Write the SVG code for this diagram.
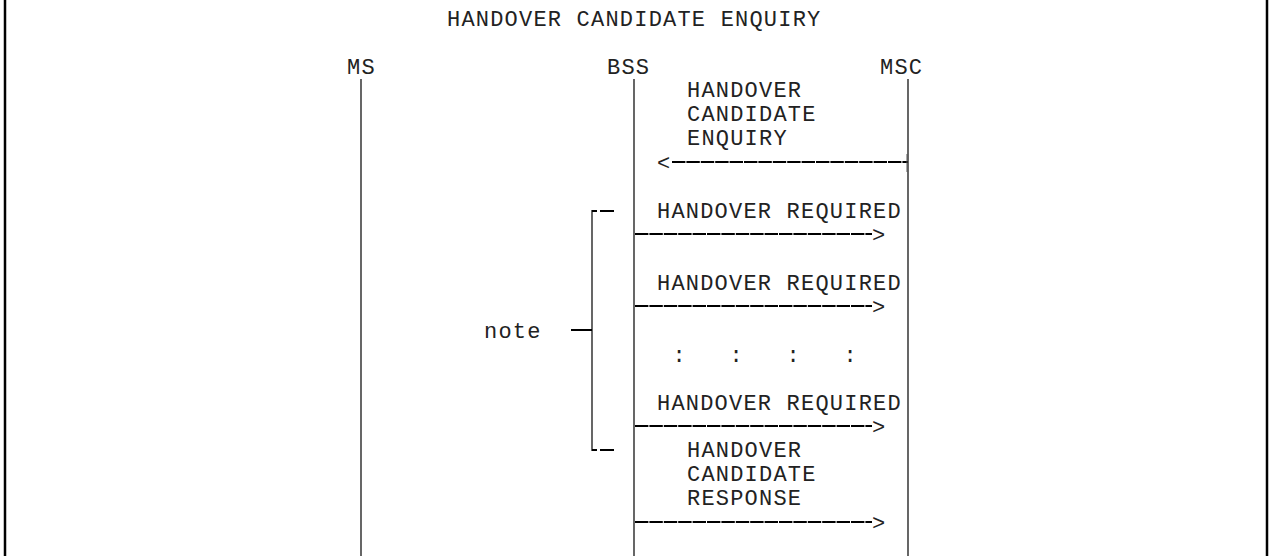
<svg xmlns="http://www.w3.org/2000/svg" width="1272" height="556" viewBox="0 0 1272 556">
<style>
text{font-family:"Liberation Mono","Courier New",monospace;font-size:22px;letter-spacing:1.2px;fill:#222}
.c{text-anchor:middle;letter-spacing:0}
.life{stroke:#000;stroke-width:1.2;fill:none}
.msg{stroke:#000;stroke-width:2;fill:none;stroke-dasharray:13.4 1}
.tick{stroke:#555;stroke-width:1;fill:none}
.br{stroke:#000;stroke-width:2;fill:none}
.border{stroke:#000;stroke-width:2.5;fill:none}
</style>
<rect width="1272" height="556" fill="#fff"/>
<line class="border" x1="5" y1="0" x2="5" y2="556"/>
<line class="border" x1="1267" y1="0" x2="1267" y2="556"/>
<text id="title" x="447" y="26">HANDOVER CANDIDATE ENQUIRY</text>
<g id="MS"><text x="347" y="74">MS</text><line class="life" x1="361" y1="79" x2="361" y2="556"/></g>
<g id="BSS"><text x="607" y="74">BSS</text><line class="life" x1="634" y1="79" x2="634" y2="556"/></g>
<g id="MSC"><text x="880" y="74">MSC</text><line class="life" x1="908" y1="79" x2="908" y2="556"/></g>
<g id="note"><text x="484" y="338">note</text>
<line class="br" x1="571" y1="330" x2="592" y2="330"/>
<line class="life" x1="592" y1="210" x2="592" y2="451"/>
<line class="br" x1="592" y1="211" x2="597" y2="211"/>
<line class="br" x1="600" y1="211" x2="614" y2="211"/>
<line class="br" x1="592" y1="450" x2="597" y2="450"/>
<line class="br" x1="600" y1="450" x2="614" y2="450"/>
</g>
<g id="labels">
<text x="687" y="97">HANDOVER</text>
<text x="687" y="121">CANDIDATE</text>
<text x="687" y="145">ENQUIRY</text>
<text x="657" y="218">HANDOVER REQUIRED</text>
<text x="657" y="290">HANDOVER REQUIRED</text>
<text class="c" x="679" y="362">:</text>
<text class="c" x="736" y="362">:</text>
<text class="c" x="793" y="362">:</text>
<text class="c" x="850" y="362">:</text>
<text x="657" y="410">HANDOVER REQUIRED</text>
<text x="687" y="457">HANDOVER</text>
<text x="687" y="481">CANDIDATE</text>
<text x="687" y="505">RESPONSE</text>
</g>
<g id="connectors">
<text x="657" y="170">&lt;</text>
<line class="msg" x1="672" y1="162" x2="908" y2="162"/>
<line class="tick" x1="907" y1="154" x2="907" y2="172"/>
<line class="msg" x1="635" y1="234" x2="872" y2="234"/>
<text x="872" y="242">&gt;</text>
<line class="msg" x1="635" y1="306" x2="872" y2="306"/>
<text x="872" y="314">&gt;</text>
<line class="msg" x1="635" y1="426" x2="872" y2="426"/>
<text x="872" y="434">&gt;</text>
<line class="msg" x1="635" y1="522" x2="872" y2="522"/>
<text x="872" y="530">&gt;</text>
</g>
</svg>
